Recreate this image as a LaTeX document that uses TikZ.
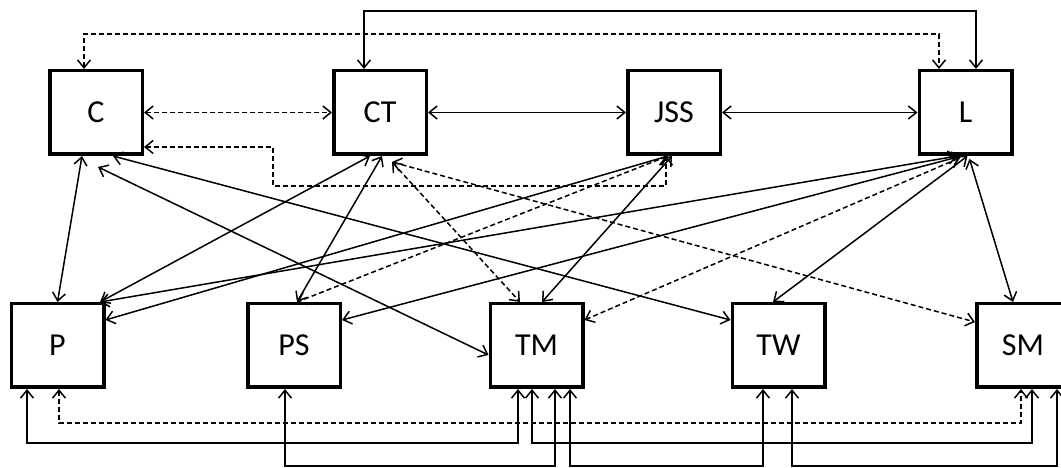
\documentclass[tikz,border=0pt]{standalone}
\usepackage{fontspec}
\setmainfont{Carlito}
\usetikzlibrary{arrows.meta}

\tikzstyle{block}=[rectangle,
                                    line width=3.5pt,
                                    minimum width=92.5pt,
                                    minimum height=83.5pt,
                                    draw=black,
                                    fill=white,
                                    font=\fontsize{32}{38}\selectfont]
\tikzstyle{link}=[line width=1.5pt,
                                    <->]
\tikzstyle{weak}=[line width=1.5pt,
                                    <->,
                                    dash pattern=on 5pt off 3pt]

\begin{document}
\begin{tikzpicture}[x=1pt,y=1pt,>={Straight Barb[length=8pt,width=13pt,line width=1.5pt]}]
  \useasboundingbox (0,0) rectangle (1061,468);

  % First line: upper blocks
  \node (C)   [block] at (96,355.5)    {C};
  \node (CT)  [block] at (380,355.5)   {CT};
  \node (JSS) [block] at (674,355.5)   {JSS};
  \node (L)   [block] at (965.5,355.5) {L};

  % Second line: lower blocks
  \node (P)   [block] at (57.5,122.5)  {P};
  \node (PS)  [block] at (294,122.5)   {PS};
  \node (TM)  [block] at (536.5,122.5) {TM};
  \node (TW)  [block] at (778.5,122.5) {TW};
  \node (SM)  [block] at (1023,122.5)  {SM};

  % Links along the upper line and over the top
  \path
    (C.east) edge[weak] (CT.west)
    (CT.east) edge[link] (JSS.west)
    (JSS.east) edge[link] (L.west)
    ;
  \draw[link] ([xshift=-16pt]CT.north) -- ++(0,58) -| ([xshift=10.5pt]L.north);
  \draw[weak] ([xshift=-12pt]C.north) -- ++(0,35) -| ([xshift=-26.5pt]L.north);
  \draw[weak] ([yshift=-34.5pt]C.east) -| ++(129,-39) -| ([xshift=-8pt]JSS.south);

  % The diagram elements are now connected through crossing arrows:
  \path
    ([xshift=-14pt]C.south) edge[link] (P.north)
    ([xshift=17pt]C.south) edge[link] ([yshift=25.5pt]TW.west)
    ([shift={(2pt,-11pt)}]C.south) edge[link] ([yshift=-9.5pt]TM.west)

    ([xshift=-10pt]CT.south) edge[link] ([xshift=42.5pt]P.north)
    ([xshift=2pt]CT.south) edge[link] ([xshift=3pt]PS.north)
    ([shift={(12pt,-6pt)}]CT.south) edge[weak] ([xshift=-16.5pt]TM.north)
    ([shift={(12pt,-6pt)}]CT.south) edge[weak] ([yshift=23.5pt]SM.west)

    ([xshift=-6pt]JSS.south) edge[link] ([yshift=25.5pt]P.east)
    ([xshift=-6pt]JSS.south) edge[weak] ([xshift=3pt]PS.north)
    ([xshift=-2pt]JSS.south) edge[link] ([xshift=5.5pt]TM.north)

    ([xshift=-8pt]L.south) edge[link] ([xshift=42.5pt]P.north)
    ([xshift=-4pt]L.south) edge[link] ([yshift=25.5pt]PS.east)
    ([shift={(-6pt,-2pt)}]L.south) edge[weak] ([yshift=25.5pt]TM.east)
    ([xshift=2pt]L.south) edge[link] ([xshift=-5.5pt]TW.north)
    ([shift={(4pt,-3pt)}]L.south) edge[link] ([xshift=-10pt]SM.north)
    ;

  % Links under the lower line
  \draw[link] ([xshift=-30.5pt]P.south) -- ++(0,-54) -| ([xshift=-18.5pt]TM.south);
  \draw[weak] ([xshift=1.5pt]P.south) -- ++(0,-34) -| ([xshift=-2pt]SM.south);
  \draw[link] ([xshift=-9pt]PS.south) -- ++(0,-77) -| ([xshift=18.5pt]TM.south);
  \draw[link] ([xshift=-4.5pt]TM.south) -- ++(0,-54) -| ([xshift=9pt]SM.south);
  \draw[link] ([xshift=33.5pt]TM.south) -- ++(0,-77) -| ([xshift=-15.5pt]TW.south);
  \draw[link] ([xshift=13.5pt]TW.south) -- ++(0,-77) -| ([xshift=34pt]SM.south);
\end{tikzpicture}
\end{document}
